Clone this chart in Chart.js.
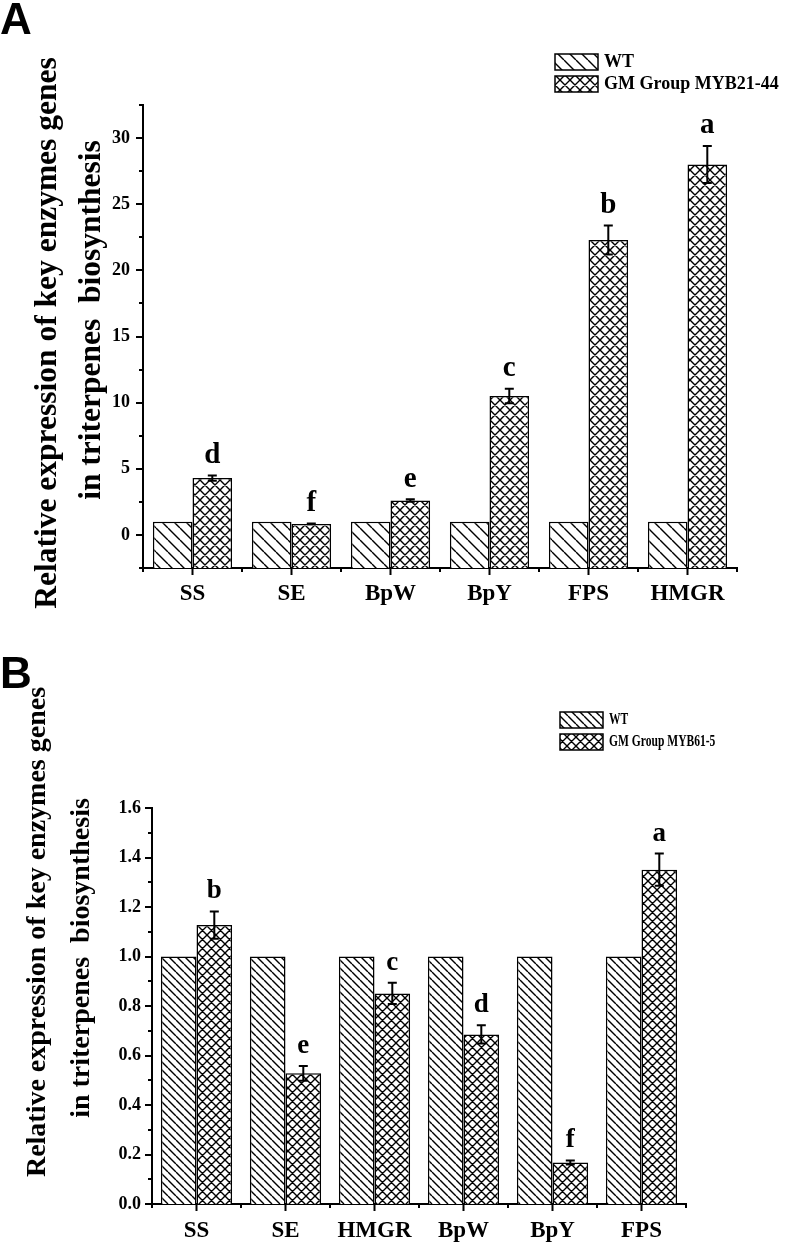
<!DOCTYPE html>
<html>
<head>
<meta charset="utf-8">
<script src="https://cdn.jsdelivr.net/npm/chart.js@4.4.1/dist/chart.umd.min.js"></script>
<style>
  html, body { margin: 0; padding: 0; background: #fff; overflow: hidden; }
  canvas { display: block; }
</style>
</head>
<body>
<canvas id="chartA" width="787" height="620"></canvas>
<canvas id="chartB" width="787" height="624"></canvas>
<script>
// panel A data
var catsA = ['SS', 'SE', 'BpW', 'BpY', 'FPS', 'HMGR'];
var wtA = [1, 1, 1, 1, 1, 1];
var gmA = [4.3, 0.83, 2.6, 10.5, 22.3, 28.0];
var errA = [0.2, 0.03, 0.1, 0.55, 1.1, 1.4];
var lettersA = ['d', 'f', 'e', 'c', 'b', 'a'];
var yTicksA = [0, 5, 10, 15, 20, 25, 30];

// panel B data
var catsB = ['SS', 'SE', 'HMGR', 'BpW', 'BpY', 'FPS'];
var wtB = [1, 1, 1, 1, 1, 1];
var gmB = [1.127, 0.528, 0.851, 0.685, 0.168, 1.351];
var errB = [0.055, 0.03, 0.043, 0.037, 0.008, 0.065];
var lettersB = ['b', 'e', 'c', 'd', 'f', 'a'];
var yTicksB = [0, 0.2, 0.4, 0.6, 0.8, 1.0, 1.2, 1.4, 1.6];

var titleLines = ['Relative expression of key enzymes genes', 'in triterpenes  biosynthesis'];
var SERIF = '"Liberation Serif", "Times New Roman", serif';

function hatch(s, cross, lw) {
    var c = document.createElement('canvas');
    c.width = s; c.height = s;
    var g = c.getContext('2d');
    g.fillStyle = '#fff';
    g.fillRect(0, 0, s, s);
    g.strokeStyle = '#000';
    g.lineWidth = lw;
    g.beginPath();
    for (var k = -s; k <= s; k += s) {
        g.moveTo(k, 0); g.lineTo(k + s, s);
        if (cross) { g.moveTo(k, s); g.lineTo(k + s, 0); }
    }
    g.stroke();
    return g.createPattern(c, 'repeat');
}

function makePanel(id, cfg) {
    var ctx = document.getElementById(id).getContext('2d');

    var decor = {
        id: 'decor',
        afterDatasetsDraw: function(chart) {
            var c = chart.ctx, y = chart.scales.y;
            var meta = chart.getDatasetMeta(1);
            c.save();
            c.strokeStyle = '#000';
            c.fillStyle = '#000';
            c.lineWidth = 2;
            meta.data.forEach(function(bar, i) {
                var v = cfg.gm[i], e = cfg.err[i];
                var top = y.getPixelForValue(v + e), bot = y.getPixelForValue(v - e);
                var x = bar.x;
                c.beginPath();
                c.moveTo(x, top); c.lineTo(x, bot);
                c.moveTo(x - 4.5, top); c.lineTo(x + 4.5, top);
                c.moveTo(x - 4.5, bot); c.lineTo(x + 4.5, bot);
                c.stroke();
                c.font = 'bold ' + cfg.letterSize + 'px ' + SERIF;
                c.textAlign = 'center';
                c.textBaseline = 'middle';
                c.fillText(cfg.letters[i], x, top - 20);
            });
            c.restore();
        },
        afterDraw: function(chart) {
            var c = chart.ctx, a = chart.chartArea;
            var x = chart.scales.x, y = chart.scales.y;
            c.save();
            c.strokeStyle = '#000';
            c.lineWidth = 2;
            c.beginPath();
            // y ticks, major ones carry labels
            for (var v = y.min; v <= y.max + 1e-9; v += cfg.minorStep) {
                var py = Math.round(y.getPixelForValue(v));
                var major = cfg.yTicks.some(function(t) { return Math.abs(t - v) < 1e-6; });
                c.moveTo(a.left, py); c.lineTo(a.left - (major ? 7 : 4), py);
            }
            // x ticks: centres long, boundaries short
            for (var i = 0; i < cfg.cats.length; i++) {
                var px = x.getPixelForValue(i);
                c.moveTo(px, a.bottom); c.lineTo(px, a.bottom + 7);
            }
            for (var j = 0; j <= cfg.cats.length; j++) {
                var bx = x.getPixelForValue(j - 0.5);
                c.moveTo(bx, a.bottom); c.lineTo(bx, a.bottom + 4);
            }
            c.stroke();

            // axis title
            c.fillStyle = '#000';
            c.textAlign = 'center';
            c.textBaseline = 'middle';
            c.font = 'bold ' + cfg.titleSize + 'px ' + SERIF;
            cfg.titlePos.forEach(function(p, k) {
                c.save();
                c.translate(p[0], p[1]);
                c.rotate(-Math.PI / 2);
                c.fillText(titleLines[k], 0, 0);
                c.restore();
            });

            // legend
            var lg = cfg.legend;
            c.font = 'bold ' + lg.size + 'px ' + SERIF;
            c.textAlign = 'left';
            c.lineWidth = 1.5;
            chart.data.datasets.forEach(function(ds, k) {
                var ty = lg.y + k * lg.gap;
                c.fillStyle = ds.backgroundColor;
                c.fillRect(lg.x, ty, 43, 16);
                c.strokeRect(lg.x, ty, 43, 16);
                c.fillStyle = '#000';
                c.save();
                c.translate(lg.x + 49, ty + 8);
                c.scale(lg.squeeze, 1);
                c.fillText(ds.label, 0, 0);
                c.restore();
            });

            // panel letter
            c.font = 'bold 44px "Liberation Sans", Arial, sans-serif';
            c.textBaseline = 'alphabetic';
            c.fillText(cfg.panel, cfg.panelPos[0], cfg.panelPos[1]);
            c.restore();
        }
    };

    return new Chart(ctx, {
        type: 'bar',
        data: {
            labels: cfg.cats,
            datasets: [
                { label: 'WT', data: cfg.wt, base: cfg.min, backgroundColor: hatch(cfg.wtHatch, false, 1.4),
                  borderColor: '#000', borderWidth: 1.5, categoryPercentage: 0.8, barPercentage: 1.0 },
                { label: cfg.gmLabel, data: cfg.gm, base: cfg.min, backgroundColor: hatch(cfg.gmHatch, true, 1.4),
                  borderColor: '#000', borderWidth: 1.5, categoryPercentage: 0.8, barPercentage: 1.0 }
            ]
        },
        options: {
            responsive: false,
            animation: false,
            devicePixelRatio: 1,
            layout: { padding: cfg.padding },
            plugins: { legend: { display: false }, tooltip: { enabled: false } },
            scales: {
                x: {
                    grid: { display: false, drawTicks: false },
                    border: { display: true, color: '#000', width: 2 },
                    ticks: { color: '#000', padding: cfg.xPad, font: { family: SERIF, weight: 'bold', size: 23 } },
                    afterFit: function(s) { s.height = cfg.xHeight; }
                },
                y: {
                    min: cfg.min,
                    max: cfg.max,
                    grid: { display: false, drawTicks: false },
                    border: { display: true, color: '#000', width: 2 },
                    afterBuildTicks: function(s) { s.ticks = cfg.yTicks.map(function(v) { return { value: v }; }); },
                    ticks: {
                        color: '#000',
                        padding: cfg.yPad,
                        font: { family: SERIF, weight: 'bold', size: cfg.yTickSize },
                        callback: function(v) { return cfg.fmt(v); }
                    },
                    afterFit: function(s) { s.width = 60; }
                }
            }
        },
        plugins: [decor]
    });
}

makePanel('chartA', {
    cats: catsA, wt: wtA, gm: gmA, err: errA, letters: lettersA, yTicks: yTicksA,
    gmLabel: 'GM Group MYB21-44', min: -2.5, max: 32.5, minorStep: 2.5,
    fmt: function(v) { return String(v); },
    padding: { left: 83, right: 50, top: 105, bottom: 12 },
    xHeight: 40, xPad: 12, yPad: 13, yTickSize: 18,
    wtHatch: 12, gmHatch: 10, letterSize: 29,
    titleSize: 31.5, titlePos: [[48, 333], [92, 320]],
    legend: { x: 555, y: 54, gap: 22, size: 18, squeeze: 1 },
    panel: 'A', panelPos: [0, 34]
});

makePanel('chartB', {
    cats: catsB, wt: wtB, gm: gmB, err: errB, letters: lettersB, yTicks: yTicksB,
    gmLabel: 'GM Group MYB61-5', min: 0, max: 1.6, minorStep: 0.1,
    fmt: function(v) { return v.toFixed(1); },
    padding: { left: 92, right: 101, top: 188, bottom: 0 },
    xHeight: 40, xPad: 13, yPad: 11, yTickSize: 18,
    wtHatch: 8, gmHatch: 9, letterSize: 27,
    titleSize: 28, titlePos: [[38, 312], [82, 338]],
    legend: { x: 560, y: 92, gap: 22, size: 17, squeeze: 0.68 },
    panel: 'B', panelPos: [0, 68]
});
</script>
</body>
</html>
